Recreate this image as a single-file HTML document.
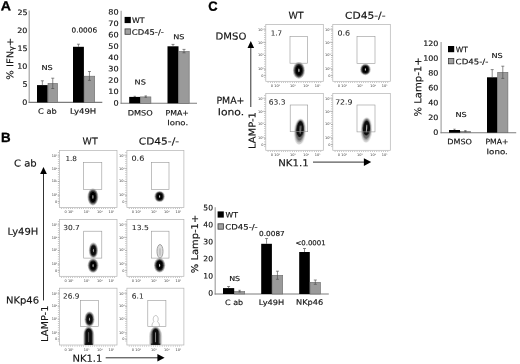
<!DOCTYPE html>
<html lang="en"><head><meta charset="utf-8"><title>Figure</title>
<style>html,body{margin:0;padding:0;background:#fff}svg{display:block}</style></head><body>
<svg width="520" height="364" viewBox="0 0 520 364">
<rect width="520" height="364" fill="#fff"/>
<defs><filter id="bl" x="-30%" y="-30%" width="160%" height="160%"><feGaussianBlur stdDeviation="0.35"/></filter></defs>
<text transform="translate(0.65,10.3) rotate(0.03) scale(1.089,1)" font-family='"Liberation Sans", "DejaVu Sans", sans-serif' font-size="13.0" fill="#000" stroke="#000" stroke-width="0.3" font-weight="bold">A</text>
<text transform="translate(1.06,142.1) rotate(0.03) scale(0.997,1)" font-family='"Liberation Sans", "DejaVu Sans", sans-serif' font-size="13.4" fill="#000" stroke="#000" stroke-width="0.3" font-weight="bold">B</text>
<text transform="translate(208.37,10.65) rotate(0.03) scale(0.970,1)" font-family='"Liberation Sans", "DejaVu Sans", sans-serif' font-size="13.4" fill="#000" stroke="#000" stroke-width="0.3" font-weight="bold">C</text>
<path d="M29.2 10.5V102.9" stroke="#a4a4a4" stroke-width="1.2" fill="none"/>
<path d="M28.599999999999998 102.4H102.3" stroke="#7c7c7c" stroke-width="1.1" fill="none"/>
<text transform="translate(22.35,104.70) rotate(0.03) scale(1.080,1)" font-family='"DejaVu Sans", "Liberation Sans", sans-serif' font-size="7.4" fill="#141414" stroke="#141414" stroke-width="0.16">0</text>
<text transform="translate(22.51,86.76) rotate(0.03) scale(1.080,1)" font-family='"DejaVu Sans", "Liberation Sans", sans-serif' font-size="7.4" fill="#141414" stroke="#141414" stroke-width="0.16">5</text>
<text transform="translate(17.26,68.82) rotate(0.03) scale(1.080,1)" font-family='"DejaVu Sans", "Liberation Sans", sans-serif' font-size="7.4" fill="#141414" stroke="#141414" stroke-width="0.16">10</text>
<text transform="translate(17.43,50.88) rotate(0.03) scale(1.080,1)" font-family='"DejaVu Sans", "Liberation Sans", sans-serif' font-size="7.4" fill="#141414" stroke="#141414" stroke-width="0.16">15</text>
<text transform="translate(17.26,32.94) rotate(0.03) scale(1.080,1)" font-family='"DejaVu Sans", "Liberation Sans", sans-serif' font-size="7.4" fill="#141414" stroke="#141414" stroke-width="0.16">20</text>
<text transform="translate(17.43,15.00) rotate(0.03) scale(1.080,1)" font-family='"DejaVu Sans", "Liberation Sans", sans-serif' font-size="7.4" fill="#141414" stroke="#141414" stroke-width="0.16">25</text>
<rect x="37.0" y="85.1" width="10.70" height="17.30" fill="#000"/>
<path d="M42.35 80.8V85.1M40.85 80.8h3.0" stroke="#4d4d4d" stroke-width="0.65" fill="none"/>
<rect x="48.00" y="83.40" width="9.50" height="19.00" fill="#9a9a9a" stroke="#6a6a6a" stroke-width="0.6"/>
<path d="M52.75 78.2V88.5M51.25 78.2h3.0M51.25 88.5h3.0" stroke="#4d4d4d" stroke-width="0.65" fill="none"/>
<rect x="73" y="46.8" width="10.90" height="55.60" fill="#000"/>
<path d="M78.45 44.2V46.8M76.95 44.2h3.0" stroke="#4d4d4d" stroke-width="0.65" fill="none"/>
<rect x="84.20" y="76.20" width="10.50" height="26.20" fill="#9a9a9a" stroke="#6a6a6a" stroke-width="0.6"/>
<path d="M89.45 71.5V80.4M87.95 71.5h3.0M87.95 80.4h3.0" stroke="#4d4d4d" stroke-width="0.65" fill="none"/>
<text transform="translate(41.50,70) rotate(0.03) scale(1.179,1)" font-family='"DejaVu Sans", "Liberation Sans", sans-serif' font-size="6.9" fill="#141414" stroke="#141414" stroke-width="0.16">NS</text>
<text transform="translate(71.52,32.6) rotate(0.03) scale(1.058,1)" font-family='"DejaVu Sans", "Liberation Sans", sans-serif' font-size="6.9" fill="#141414" stroke="#141414" stroke-width="0.16">0.0006</text>
<text transform="translate(38.04,113.8) rotate(0.03) scale(1.111,1)" font-family='"DejaVu Sans", "Liberation Sans", sans-serif' font-size="7.4" fill="#141414" stroke="#141414" stroke-width="0.16">C ab</text>
<text transform="translate(69.96,113.8) rotate(0.03) scale(1.153,1)" font-family='"DejaVu Sans", "Liberation Sans", sans-serif' font-size="7.4" fill="#141414" stroke="#141414" stroke-width="0.16">Ly49H</text>
<text transform="translate(13.2,79.65) rotate(-89.96) scale(1.074,1)" font-family='"DejaVu Sans", "Liberation Sans", sans-serif' font-size="9.3" fill="#141414" stroke="#141414" stroke-width="0.16">% IFN<tspan font-size="7.2" dy="0.8">γ</tspan><tspan dy="-0.8">+</tspan></text>
<path d="M121.15 10.8V103.8" stroke="#a4a4a4" stroke-width="1.2" fill="none"/>
<path d="M120.55000000000001 103.3H197" stroke="#7c7c7c" stroke-width="1.1" fill="none"/>
<text transform="translate(113.46,105.40) rotate(0.03) scale(1.100,1)" font-family='"DejaVu Sans", "Liberation Sans", sans-serif' font-size="7.4" fill="#141414" stroke="#141414" stroke-width="0.16">0</text>
<text transform="translate(108.28,94.05) rotate(0.03) scale(1.100,1)" font-family='"DejaVu Sans", "Liberation Sans", sans-serif' font-size="7.4" fill="#141414" stroke="#141414" stroke-width="0.16">10</text>
<text transform="translate(108.28,82.70) rotate(0.03) scale(1.100,1)" font-family='"DejaVu Sans", "Liberation Sans", sans-serif' font-size="7.4" fill="#141414" stroke="#141414" stroke-width="0.16">20</text>
<text transform="translate(108.28,71.35) rotate(0.03) scale(1.100,1)" font-family='"DejaVu Sans", "Liberation Sans", sans-serif' font-size="7.4" fill="#141414" stroke="#141414" stroke-width="0.16">30</text>
<text transform="translate(108.28,60.00) rotate(0.03) scale(1.100,1)" font-family='"DejaVu Sans", "Liberation Sans", sans-serif' font-size="7.4" fill="#141414" stroke="#141414" stroke-width="0.16">40</text>
<text transform="translate(108.28,48.65) rotate(0.03) scale(1.100,1)" font-family='"DejaVu Sans", "Liberation Sans", sans-serif' font-size="7.4" fill="#141414" stroke="#141414" stroke-width="0.16">50</text>
<text transform="translate(108.28,37.30) rotate(0.03) scale(1.100,1)" font-family='"DejaVu Sans", "Liberation Sans", sans-serif' font-size="7.4" fill="#141414" stroke="#141414" stroke-width="0.16">60</text>
<text transform="translate(108.28,25.95) rotate(0.03) scale(1.100,1)" font-family='"DejaVu Sans", "Liberation Sans", sans-serif' font-size="7.4" fill="#141414" stroke="#141414" stroke-width="0.16">70</text>
<text transform="translate(108.28,14.60) rotate(0.03) scale(1.100,1)" font-family='"DejaVu Sans", "Liberation Sans", sans-serif' font-size="7.4" fill="#141414" stroke="#141414" stroke-width="0.16">80</text>
<rect x="124.6" y="16.9" width="6.2" height="6.2" fill="#000"/>
<rect x="125.0" y="28.9" width="5.4" height="5.4" fill="#a0a0a0" stroke="#3c3c3c" stroke-width="0.8"/>
<text transform="translate(132.04,23.099999999999998) rotate(0.03) scale(1.059,1)" font-family='"DejaVu Sans", "Liberation Sans", sans-serif' font-size="7.4" fill="#141414" stroke="#141414" stroke-width="0.16">WT</text>
<text transform="translate(131.83,34.7) rotate(0.03) scale(1.138,1)" font-family='"DejaVu Sans", "Liberation Sans", sans-serif' font-size="7.4" fill="#141414" stroke="#141414" stroke-width="0.16">CD45-/-</text>
<rect x="129.2" y="96.9" width="11.10" height="6.40" fill="#000"/>
<path d="M134.75 96.3V96.9M133.55 96.3h2.4" stroke="#4d4d4d" stroke-width="0.65" fill="none"/>
<rect x="140.60" y="96.90" width="10.30" height="6.40" fill="#9a9a9a" stroke="#6a6a6a" stroke-width="0.6"/>
<path d="M145.75 95.9V97.3M144.55 95.9h2.4M144.55 97.3h2.4" stroke="#4d4d4d" stroke-width="0.65" fill="none"/>
<rect x="167.5" y="46.3" width="11.00" height="57.00" fill="#000"/>
<path d="M173.00 44.4V46.3M171.50 44.4h3.0" stroke="#4d4d4d" stroke-width="0.65" fill="none"/>
<rect x="178.80" y="51.40" width="10.40" height="51.90" fill="#9a9a9a" stroke="#6a6a6a" stroke-width="0.6"/>
<path d="M184.00 49.4V52.8M182.50 49.4h3.0M182.50 52.8h3.0" stroke="#4d4d4d" stroke-width="0.65" fill="none"/>
<text transform="translate(134.60,84.6) rotate(0.03) scale(1.179,1)" font-family='"DejaVu Sans", "Liberation Sans", sans-serif' font-size="6.9" fill="#141414" stroke="#141414" stroke-width="0.16">NS</text>
<text transform="translate(173.20,39.2) rotate(0.03) scale(1.179,1)" font-family='"DejaVu Sans", "Liberation Sans", sans-serif' font-size="6.9" fill="#141414" stroke="#141414" stroke-width="0.16">NS</text>
<text transform="translate(127.69,115.6) rotate(0.03) scale(1.109,1)" font-family='"DejaVu Sans", "Liberation Sans", sans-serif' font-size="7.4" fill="#141414" stroke="#141414" stroke-width="0.16">DMSO</text>
<text transform="translate(165.43,115.6) rotate(0.03) scale(1.058,1)" font-family='"DejaVu Sans", "Liberation Sans", sans-serif' font-size="7.4" fill="#141414" stroke="#141414" stroke-width="0.16">PMA+</text>
<text transform="translate(167.16,125.3) rotate(0.03) scale(1.158,1)" font-family='"DejaVu Sans", "Liberation Sans", sans-serif' font-size="7.4" fill="#141414" stroke="#141414" stroke-width="0.16">Iono.</text>
<text transform="translate(82.59,144.6) rotate(0.03) scale(0.993,1)" font-family='"DejaVu Sans", "Liberation Sans", sans-serif' font-size="9.5" fill="#141414" stroke="#141414" stroke-width="0.16">WT</text>
<text transform="translate(138.80,144.6) rotate(0.03) scale(1.117,1)" font-family='"DejaVu Sans", "Liberation Sans", sans-serif' font-size="9.5" fill="#141414" stroke="#141414" stroke-width="0.16">CD45-/-</text>
<text transform="translate(14.04,166.4) rotate(0.03) scale(1.056,1)" font-family='"DejaVu Sans", "Liberation Sans", sans-serif' font-size="9.5" fill="#141414" stroke="#141414" stroke-width="0.16">C ab</text>
<text transform="translate(7.52,234.8) rotate(0.03) scale(1.050,1)" font-family='"DejaVu Sans", "Liberation Sans", sans-serif' font-size="9.5" fill="#141414" stroke="#141414" stroke-width="0.16">Ly49H</text>
<text transform="translate(5.92,303.4) rotate(0.03) scale(1.056,1)" font-family='"DejaVu Sans", "Liberation Sans", sans-serif' font-size="9.5" fill="#141414" stroke="#141414" stroke-width="0.16">NKp46</text>
<path d="M43.5 172V300.4" stroke="#1a1a1a" stroke-width="0.9"/><path d="M43.5 167L46.9 173.9H40.1Z" fill="#000"/>
<text transform="translate(48.1,341.96) rotate(-89.96) scale(1.034,1)" font-family='"DejaVu Sans", "Liberation Sans", sans-serif' font-size="9.5" fill="#141414" stroke="#141414" stroke-width="0.16">LAMP-1</text>
<text transform="translate(72.42,361.7) rotate(0.03) scale(1.055,1)" font-family='"DejaVu Sans", "Liberation Sans", sans-serif' font-size="9.5" fill="#141414" stroke="#141414" stroke-width="0.16">NK1.1</text>
<path d="M105.7 357.8H158" stroke="#1a1a1a" stroke-width="0.9"/><path d="M164.6 357.8L157.4 354.1V361.5Z" fill="#000"/>
<rect x="59.5" y="150.5" width="57.50" height="56.90" fill="#fff" stroke="#b2b2b2" stroke-width="0.7"/>
<g filter="url(#bl)"><ellipse cx="92.9" cy="196.9" rx="5.40" ry="8.50" fill="#b4b4b4" opacity="0.80"/><ellipse cx="92.9" cy="196.9" rx="4.64" ry="7.48" fill="#6e6e6e" opacity="0.90"/><ellipse cx="92.9" cy="196.9" rx="3.89" ry="6.46" fill="#2c2c2c" opacity="0.95"/><ellipse cx="92.9" cy="196.9" rx="3.02" ry="5.27" fill="#050505" opacity="1.00"/><ellipse cx="92.9" cy="196.9" rx="0.54" ry="1.87" fill="#dcdcdc" opacity="0.90"/></g>
<rect x="83.5" y="162.3" width="18.30" height="27.20" fill="none" stroke="#969696" stroke-width="0.6"/>
<text transform="translate(65.40,161) rotate(0.03) scale(1.042,1)" font-family='"DejaVu Sans", "Liberation Sans", sans-serif' font-size="7.0" fill="#262626" stroke="#262626" stroke-width="0.06">1.8</text>
<text x="57.20" y="156.81" font-family='"DejaVu Sans", "Liberation Sans", sans-serif' font-size="3.5" text-anchor="end" fill="#3c3c3c">10<tspan dy="-0.9" font-size="1.7">5</tspan></text>
<path d="M57.70 155.91h1.8" stroke="#8a8a8a" stroke-width="0.5"/>
<text x="57.20" y="169.61" font-family='"DejaVu Sans", "Liberation Sans", sans-serif' font-size="3.5" text-anchor="end" fill="#3c3c3c">10<tspan dy="-0.9" font-size="1.7">4</tspan></text>
<path d="M57.70 168.71h1.8" stroke="#8a8a8a" stroke-width="0.5"/>
<text x="57.20" y="182.41" font-family='"DejaVu Sans", "Liberation Sans", sans-serif' font-size="3.5" text-anchor="end" fill="#3c3c3c">10<tspan dy="-0.9" font-size="1.7">3</tspan></text>
<path d="M57.70 181.51h1.8" stroke="#8a8a8a" stroke-width="0.5"/>
<text x="57.20" y="196.35" font-family='"DejaVu Sans", "Liberation Sans", sans-serif' font-size="3.5" text-anchor="end" fill="#3c3c3c">10<tspan dy="-0.9" font-size="1.7">2</tspan></text>
<path d="M57.70 195.45h1.8" stroke="#8a8a8a" stroke-width="0.5"/>
<text x="57.20" y="202.61" font-family='"DejaVu Sans", "Liberation Sans", sans-serif' font-size="3.5" text-anchor="end" fill="#3c3c3c">0</text>
<path d="M57.70 201.71h1.8" stroke="#8a8a8a" stroke-width="0.5"/>
<text x="68.99" y="213.00" font-family='"DejaVu Sans", "Liberation Sans", sans-serif' font-size="3.5" text-anchor="middle" fill="#3c3c3c">0 10<tspan dy="-0.9" font-size="1.7">2</tspan></text>
<text x="86.53" y="213.00" font-family='"DejaVu Sans", "Liberation Sans", sans-serif' font-size="3.5" text-anchor="middle" fill="#3c3c3c">10<tspan dy="-0.9" font-size="1.7">3</tspan></text>
<text x="99.75" y="213.00" font-family='"DejaVu Sans", "Liberation Sans", sans-serif' font-size="3.5" text-anchor="middle" fill="#3c3c3c">10<tspan dy="-0.9" font-size="1.7">4</tspan></text>
<text x="111.25" y="213.00" font-family='"DejaVu Sans", "Liberation Sans", sans-serif' font-size="3.5" text-anchor="middle" fill="#3c3c3c">10<tspan dy="-0.9" font-size="1.7">5</tspan></text>
<path d="M61.50 208.50H115.00" stroke="#7a7a7a" stroke-width="0.9" stroke-dasharray="0.5 1.7"/>
<path d="M58.40 152.50V205.40" stroke="#7a7a7a" stroke-width="0.9" stroke-dasharray="0.5 1.7"/>
<rect x="126.9" y="150.5" width="57.00" height="56.90" fill="#fff" stroke="#b2b2b2" stroke-width="0.7"/>
<g filter="url(#bl)"><ellipse cx="159.6" cy="196.5" rx="5.20" ry="5.50" fill="#b4b4b4" opacity="0.80"/><ellipse cx="159.6" cy="196.5" rx="4.47" ry="4.84" fill="#6e6e6e" opacity="0.90"/><ellipse cx="159.6" cy="196.5" rx="3.74" ry="4.18" fill="#2c2c2c" opacity="0.95"/><ellipse cx="159.6" cy="196.5" rx="2.91" ry="3.41" fill="#050505" opacity="1.00"/><ellipse cx="159.6" cy="196.5" rx="0.52" ry="1.21" fill="#dcdcdc" opacity="0.90"/></g>
<rect x="151.5" y="162.3" width="17.50" height="27.30" fill="none" stroke="#969696" stroke-width="0.6"/>
<text transform="translate(131.47,160.8) rotate(0.03) scale(1.153,1)" font-family='"DejaVu Sans", "Liberation Sans", sans-serif' font-size="7.0" fill="#262626" stroke="#262626" stroke-width="0.06">0.6</text>
<text x="124.60" y="156.81" font-family='"DejaVu Sans", "Liberation Sans", sans-serif' font-size="3.5" text-anchor="end" fill="#3c3c3c">10<tspan dy="-0.9" font-size="1.7">5</tspan></text>
<path d="M125.10 155.91h1.8" stroke="#8a8a8a" stroke-width="0.5"/>
<text x="124.60" y="169.61" font-family='"DejaVu Sans", "Liberation Sans", sans-serif' font-size="3.5" text-anchor="end" fill="#3c3c3c">10<tspan dy="-0.9" font-size="1.7">4</tspan></text>
<path d="M125.10 168.71h1.8" stroke="#8a8a8a" stroke-width="0.5"/>
<text x="124.60" y="182.41" font-family='"DejaVu Sans", "Liberation Sans", sans-serif' font-size="3.5" text-anchor="end" fill="#3c3c3c">10<tspan dy="-0.9" font-size="1.7">3</tspan></text>
<path d="M125.10 181.51h1.8" stroke="#8a8a8a" stroke-width="0.5"/>
<text x="124.60" y="196.35" font-family='"DejaVu Sans", "Liberation Sans", sans-serif' font-size="3.5" text-anchor="end" fill="#3c3c3c">10<tspan dy="-0.9" font-size="1.7">2</tspan></text>
<path d="M125.10 195.45h1.8" stroke="#8a8a8a" stroke-width="0.5"/>
<text x="124.60" y="202.61" font-family='"DejaVu Sans", "Liberation Sans", sans-serif' font-size="3.5" text-anchor="end" fill="#3c3c3c">0</text>
<path d="M125.10 201.71h1.8" stroke="#8a8a8a" stroke-width="0.5"/>
<text x="136.31" y="213.00" font-family='"DejaVu Sans", "Liberation Sans", sans-serif' font-size="3.5" text-anchor="middle" fill="#3c3c3c">0 10<tspan dy="-0.9" font-size="1.7">2</tspan></text>
<text x="153.69" y="213.00" font-family='"DejaVu Sans", "Liberation Sans", sans-serif' font-size="3.5" text-anchor="middle" fill="#3c3c3c">10<tspan dy="-0.9" font-size="1.7">3</tspan></text>
<text x="166.80" y="213.00" font-family='"DejaVu Sans", "Liberation Sans", sans-serif' font-size="3.5" text-anchor="middle" fill="#3c3c3c">10<tspan dy="-0.9" font-size="1.7">4</tspan></text>
<text x="178.20" y="213.00" font-family='"DejaVu Sans", "Liberation Sans", sans-serif' font-size="3.5" text-anchor="middle" fill="#3c3c3c">10<tspan dy="-0.9" font-size="1.7">5</tspan></text>
<path d="M128.90 208.50H181.90" stroke="#7a7a7a" stroke-width="0.9" stroke-dasharray="0.5 1.7"/>
<path d="M125.80 152.50V205.40" stroke="#7a7a7a" stroke-width="0.9" stroke-dasharray="0.5 1.7"/>
<rect x="59.5" y="219.4" width="57.50" height="56.90" fill="#fff" stroke="#b2b2b2" stroke-width="0.7"/>
<g filter="url(#bl)"><ellipse cx="93.4" cy="250.4" rx="4.60" ry="7.90" fill="#b4b4b4" opacity="0.66"/><ellipse cx="93.4" cy="250.4" rx="3.96" ry="6.95" fill="#6e6e6e" opacity="0.74"/><ellipse cx="93.4" cy="250.4" rx="3.31" ry="6.00" fill="#2c2c2c" opacity="0.78"/><ellipse cx="93.4" cy="250.4" rx="2.58" ry="4.90" fill="#050505" opacity="0.82"/><ellipse cx="93.4" cy="250.4" rx="0.50" ry="1.74" fill="#dcdcdc" opacity="0.74"/></g>
<g filter="url(#bl)"><ellipse cx="93.1" cy="265.6" rx="5.40" ry="7.20" fill="#b4b4b4" opacity="0.80"/><ellipse cx="93.1" cy="265.6" rx="4.64" ry="6.34" fill="#6e6e6e" opacity="0.90"/><ellipse cx="93.1" cy="265.6" rx="3.89" ry="5.47" fill="#2c2c2c" opacity="0.95"/><ellipse cx="93.1" cy="265.6" rx="3.02" ry="4.46" fill="#050505" opacity="1.00"/><ellipse cx="93.1" cy="265.6" rx="0.54" ry="1.58" fill="#dcdcdc" opacity="0.90"/></g>
<rect x="83.7" y="231.2" width="18.10" height="26.90" fill="none" stroke="#969696" stroke-width="0.6"/>
<text transform="translate(63.23,230) rotate(0.03) scale(1.065,1)" font-family='"DejaVu Sans", "Liberation Sans", sans-serif' font-size="7.0" fill="#262626" stroke="#262626" stroke-width="0.06">30.7</text>
<text x="57.20" y="225.71" font-family='"DejaVu Sans", "Liberation Sans", sans-serif' font-size="3.5" text-anchor="end" fill="#3c3c3c">10<tspan dy="-0.9" font-size="1.7">5</tspan></text>
<path d="M57.70 224.81h1.8" stroke="#8a8a8a" stroke-width="0.5"/>
<text x="57.20" y="238.51" font-family='"DejaVu Sans", "Liberation Sans", sans-serif' font-size="3.5" text-anchor="end" fill="#3c3c3c">10<tspan dy="-0.9" font-size="1.7">4</tspan></text>
<path d="M57.70 237.61h1.8" stroke="#8a8a8a" stroke-width="0.5"/>
<text x="57.20" y="251.31" font-family='"DejaVu Sans", "Liberation Sans", sans-serif' font-size="3.5" text-anchor="end" fill="#3c3c3c">10<tspan dy="-0.9" font-size="1.7">3</tspan></text>
<path d="M57.70 250.41h1.8" stroke="#8a8a8a" stroke-width="0.5"/>
<text x="57.20" y="265.25" font-family='"DejaVu Sans", "Liberation Sans", sans-serif' font-size="3.5" text-anchor="end" fill="#3c3c3c">10<tspan dy="-0.9" font-size="1.7">2</tspan></text>
<path d="M57.70 264.35h1.8" stroke="#8a8a8a" stroke-width="0.5"/>
<text x="57.20" y="271.51" font-family='"DejaVu Sans", "Liberation Sans", sans-serif' font-size="3.5" text-anchor="end" fill="#3c3c3c">0</text>
<path d="M57.70 270.61h1.8" stroke="#8a8a8a" stroke-width="0.5"/>
<text x="68.99" y="281.90" font-family='"DejaVu Sans", "Liberation Sans", sans-serif' font-size="3.5" text-anchor="middle" fill="#3c3c3c">0 10<tspan dy="-0.9" font-size="1.7">2</tspan></text>
<text x="86.53" y="281.90" font-family='"DejaVu Sans", "Liberation Sans", sans-serif' font-size="3.5" text-anchor="middle" fill="#3c3c3c">10<tspan dy="-0.9" font-size="1.7">3</tspan></text>
<text x="99.75" y="281.90" font-family='"DejaVu Sans", "Liberation Sans", sans-serif' font-size="3.5" text-anchor="middle" fill="#3c3c3c">10<tspan dy="-0.9" font-size="1.7">4</tspan></text>
<text x="111.25" y="281.90" font-family='"DejaVu Sans", "Liberation Sans", sans-serif' font-size="3.5" text-anchor="middle" fill="#3c3c3c">10<tspan dy="-0.9" font-size="1.7">5</tspan></text>
<path d="M61.50 277.40H115.00" stroke="#7a7a7a" stroke-width="0.9" stroke-dasharray="0.5 1.7"/>
<path d="M58.40 221.40V274.30" stroke="#7a7a7a" stroke-width="0.9" stroke-dasharray="0.5 1.7"/>
<rect x="126.9" y="219.4" width="57.00" height="56.90" fill="#fff" stroke="#b2b2b2" stroke-width="0.7"/>
<g filter="url(#bl)"><ellipse cx="160" cy="251.3" rx="3" ry="6.8" fill="#dedede" stroke="#a2a2a2" stroke-width="1"/><ellipse cx="160" cy="252" rx="1.1" ry="4" fill="#c4c4c4"/></g>
<g filter="url(#bl)"><ellipse cx="159.6" cy="265.3" rx="5.60" ry="7.20" fill="#b4b4b4" opacity="0.80"/><ellipse cx="159.6" cy="265.3" rx="4.82" ry="6.34" fill="#6e6e6e" opacity="0.90"/><ellipse cx="159.6" cy="265.3" rx="4.03" ry="5.47" fill="#2c2c2c" opacity="0.95"/><ellipse cx="159.6" cy="265.3" rx="3.14" ry="4.46" fill="#050505" opacity="1.00"/><ellipse cx="159.6" cy="265.3" rx="0.56" ry="1.58" fill="#dcdcdc" opacity="0.90"/></g>
<rect x="151.5" y="231.2" width="17.50" height="26.90" fill="none" stroke="#969696" stroke-width="0.6"/>
<text transform="translate(131.76,230) rotate(0.03) scale(1.098,1)" font-family='"DejaVu Sans", "Liberation Sans", sans-serif' font-size="7.0" fill="#262626" stroke="#262626" stroke-width="0.06">13.5</text>
<text x="124.60" y="225.71" font-family='"DejaVu Sans", "Liberation Sans", sans-serif' font-size="3.5" text-anchor="end" fill="#3c3c3c">10<tspan dy="-0.9" font-size="1.7">5</tspan></text>
<path d="M125.10 224.81h1.8" stroke="#8a8a8a" stroke-width="0.5"/>
<text x="124.60" y="238.51" font-family='"DejaVu Sans", "Liberation Sans", sans-serif' font-size="3.5" text-anchor="end" fill="#3c3c3c">10<tspan dy="-0.9" font-size="1.7">4</tspan></text>
<path d="M125.10 237.61h1.8" stroke="#8a8a8a" stroke-width="0.5"/>
<text x="124.60" y="251.31" font-family='"DejaVu Sans", "Liberation Sans", sans-serif' font-size="3.5" text-anchor="end" fill="#3c3c3c">10<tspan dy="-0.9" font-size="1.7">3</tspan></text>
<path d="M125.10 250.41h1.8" stroke="#8a8a8a" stroke-width="0.5"/>
<text x="124.60" y="265.25" font-family='"DejaVu Sans", "Liberation Sans", sans-serif' font-size="3.5" text-anchor="end" fill="#3c3c3c">10<tspan dy="-0.9" font-size="1.7">2</tspan></text>
<path d="M125.10 264.35h1.8" stroke="#8a8a8a" stroke-width="0.5"/>
<text x="124.60" y="271.51" font-family='"DejaVu Sans", "Liberation Sans", sans-serif' font-size="3.5" text-anchor="end" fill="#3c3c3c">0</text>
<path d="M125.10 270.61h1.8" stroke="#8a8a8a" stroke-width="0.5"/>
<text x="136.31" y="281.90" font-family='"DejaVu Sans", "Liberation Sans", sans-serif' font-size="3.5" text-anchor="middle" fill="#3c3c3c">0 10<tspan dy="-0.9" font-size="1.7">2</tspan></text>
<text x="153.69" y="281.90" font-family='"DejaVu Sans", "Liberation Sans", sans-serif' font-size="3.5" text-anchor="middle" fill="#3c3c3c">10<tspan dy="-0.9" font-size="1.7">3</tspan></text>
<text x="166.80" y="281.90" font-family='"DejaVu Sans", "Liberation Sans", sans-serif' font-size="3.5" text-anchor="middle" fill="#3c3c3c">10<tspan dy="-0.9" font-size="1.7">4</tspan></text>
<text x="178.20" y="281.90" font-family='"DejaVu Sans", "Liberation Sans", sans-serif' font-size="3.5" text-anchor="middle" fill="#3c3c3c">10<tspan dy="-0.9" font-size="1.7">5</tspan></text>
<path d="M128.90 277.40H181.90" stroke="#7a7a7a" stroke-width="0.9" stroke-dasharray="0.5 1.7"/>
<path d="M125.80 221.40V274.30" stroke="#7a7a7a" stroke-width="0.9" stroke-dasharray="0.5 1.7"/>
<rect x="59.5" y="288.2" width="57.50" height="56.80" fill="#fff" stroke="#b2b2b2" stroke-width="0.7"/>
<g filter="url(#bl)"><path d="M83.20 344.8V334.65A5.50 8.25 0 0 1 94.20 334.65V344.8Z" fill="#c8c8c8" opacity="0.7"/><path d="M83.97 344.8V334.19A4.73 7.09 0 0 1 93.43 334.19V344.8Z" fill="#8e8e8e" opacity="0.9"/><path d="M84.74 344.8V333.84A3.96 5.94 0 0 1 92.66 333.84V344.8Z" fill="#484848" opacity="0.95"/><path d="M85.62 344.8V333.42A3.08 4.62 0 0 1 91.78 333.42V344.8Z" fill="#0a0a0a" opacity="1"/><rect x="88.30" y="331.9" width="0.8" height="10.40" rx="0.4" fill="#6a6a6a"/><rect x="84.74" y="343.60" width="7.92" height="1.2" fill="#1a1a1a"/></g>
<g filter="url(#bl)"><ellipse cx="89.5" cy="319.2" rx="5.10" ry="7.80" fill="#b4b4b4" opacity="0.66"/><ellipse cx="89.5" cy="319.2" rx="4.39" ry="6.86" fill="#6e6e6e" opacity="0.74"/><ellipse cx="89.5" cy="319.2" rx="3.67" ry="5.93" fill="#2c2c2c" opacity="0.78"/><ellipse cx="89.5" cy="319.2" rx="2.86" ry="4.84" fill="#050505" opacity="0.82"/><ellipse cx="89.5" cy="319.2" rx="0.51" ry="1.72" fill="#dcdcdc" opacity="0.74"/></g>
<rect x="80.5" y="300.3" width="18.00" height="26.20" fill="none" stroke="#969696" stroke-width="0.6"/>
<text transform="translate(63.06,298.5) rotate(0.03) scale(1.049,1)" font-family='"DejaVu Sans", "Liberation Sans", sans-serif' font-size="7.0" fill="#262626" stroke="#262626" stroke-width="0.06">26.9</text>
<text x="57.20" y="294.50" font-family='"DejaVu Sans", "Liberation Sans", sans-serif' font-size="3.5" text-anchor="end" fill="#3c3c3c">10<tspan dy="-0.9" font-size="1.7">5</tspan></text>
<path d="M57.70 293.60h1.8" stroke="#8a8a8a" stroke-width="0.5"/>
<text x="57.20" y="307.28" font-family='"DejaVu Sans", "Liberation Sans", sans-serif' font-size="3.5" text-anchor="end" fill="#3c3c3c">10<tspan dy="-0.9" font-size="1.7">4</tspan></text>
<path d="M57.70 306.38h1.8" stroke="#8a8a8a" stroke-width="0.5"/>
<text x="57.20" y="320.06" font-family='"DejaVu Sans", "Liberation Sans", sans-serif' font-size="3.5" text-anchor="end" fill="#3c3c3c">10<tspan dy="-0.9" font-size="1.7">3</tspan></text>
<path d="M57.70 319.16h1.8" stroke="#8a8a8a" stroke-width="0.5"/>
<text x="57.20" y="333.97" font-family='"DejaVu Sans", "Liberation Sans", sans-serif' font-size="3.5" text-anchor="end" fill="#3c3c3c">10<tspan dy="-0.9" font-size="1.7">2</tspan></text>
<path d="M57.70 333.07h1.8" stroke="#8a8a8a" stroke-width="0.5"/>
<text x="57.20" y="340.22" font-family='"DejaVu Sans", "Liberation Sans", sans-serif' font-size="3.5" text-anchor="end" fill="#3c3c3c">0</text>
<path d="M57.70 339.32h1.8" stroke="#8a8a8a" stroke-width="0.5"/>
<text x="68.99" y="350.60" font-family='"DejaVu Sans", "Liberation Sans", sans-serif' font-size="3.5" text-anchor="middle" fill="#3c3c3c">0 10<tspan dy="-0.9" font-size="1.7">2</tspan></text>
<text x="86.53" y="350.60" font-family='"DejaVu Sans", "Liberation Sans", sans-serif' font-size="3.5" text-anchor="middle" fill="#3c3c3c">10<tspan dy="-0.9" font-size="1.7">3</tspan></text>
<text x="99.75" y="350.60" font-family='"DejaVu Sans", "Liberation Sans", sans-serif' font-size="3.5" text-anchor="middle" fill="#3c3c3c">10<tspan dy="-0.9" font-size="1.7">4</tspan></text>
<text x="111.25" y="350.60" font-family='"DejaVu Sans", "Liberation Sans", sans-serif' font-size="3.5" text-anchor="middle" fill="#3c3c3c">10<tspan dy="-0.9" font-size="1.7">5</tspan></text>
<path d="M61.50 346.10H115.00" stroke="#7a7a7a" stroke-width="0.9" stroke-dasharray="0.5 1.7"/>
<path d="M58.40 290.20V343.00" stroke="#7a7a7a" stroke-width="0.9" stroke-dasharray="0.5 1.7"/>
<rect x="126.9" y="288.2" width="57.00" height="56.80" fill="#fff" stroke="#b2b2b2" stroke-width="0.7"/>
<g filter="url(#bl)"><path d="M149.10 344.8V336.35A6.50 9.75 0 0 1 162.10 336.35V344.8Z" fill="#c8c8c8" opacity="0.7"/><path d="M150.40 344.8V335.10A5.20 7.80 0 0 1 160.80 335.10V344.8Z" fill="#8e8e8e" opacity="0.9"/><path d="M151.57 344.8V334.15A4.03 6.04 0 0 1 159.63 334.15V344.8Z" fill="#484848" opacity="0.95"/><path d="M152.74 344.8V333.29A2.86 4.29 0 0 1 158.46 333.29V344.8Z" fill="#0a0a0a" opacity="1"/><rect x="155.20" y="332.1" width="0.8" height="10.20" rx="0.4" fill="#9a9a9a"/><rect x="150.92" y="343.60" width="9.36" height="1.2" fill="#1a1a1a"/></g>
<path d="M152.3 326.6c-0.9-1.9 0.2-3.7 1.6-4.9c-1.6-2.8-0.1-6.2 1.8-6.2s3.4 3.4 1.8 6.2c1.4 1.2 2.5 3 1.6 4.9" fill="#fff" stroke="#8a8a8a" stroke-width="0.5"/>
<rect x="147.8" y="300.3" width="18.10" height="26.20" fill="none" stroke="#969696" stroke-width="0.6"/>
<text transform="translate(131.78,298.5) rotate(0.03) scale(1.070,1)" font-family='"DejaVu Sans", "Liberation Sans", sans-serif' font-size="7.0" fill="#262626" stroke="#262626" stroke-width="0.06">6.1</text>
<text x="124.60" y="294.50" font-family='"DejaVu Sans", "Liberation Sans", sans-serif' font-size="3.5" text-anchor="end" fill="#3c3c3c">10<tspan dy="-0.9" font-size="1.7">5</tspan></text>
<path d="M125.10 293.60h1.8" stroke="#8a8a8a" stroke-width="0.5"/>
<text x="124.60" y="307.28" font-family='"DejaVu Sans", "Liberation Sans", sans-serif' font-size="3.5" text-anchor="end" fill="#3c3c3c">10<tspan dy="-0.9" font-size="1.7">4</tspan></text>
<path d="M125.10 306.38h1.8" stroke="#8a8a8a" stroke-width="0.5"/>
<text x="124.60" y="320.06" font-family='"DejaVu Sans", "Liberation Sans", sans-serif' font-size="3.5" text-anchor="end" fill="#3c3c3c">10<tspan dy="-0.9" font-size="1.7">3</tspan></text>
<path d="M125.10 319.16h1.8" stroke="#8a8a8a" stroke-width="0.5"/>
<text x="124.60" y="333.97" font-family='"DejaVu Sans", "Liberation Sans", sans-serif' font-size="3.5" text-anchor="end" fill="#3c3c3c">10<tspan dy="-0.9" font-size="1.7">2</tspan></text>
<path d="M125.10 333.07h1.8" stroke="#8a8a8a" stroke-width="0.5"/>
<text x="124.60" y="340.22" font-family='"DejaVu Sans", "Liberation Sans", sans-serif' font-size="3.5" text-anchor="end" fill="#3c3c3c">0</text>
<path d="M125.10 339.32h1.8" stroke="#8a8a8a" stroke-width="0.5"/>
<text x="136.31" y="350.60" font-family='"DejaVu Sans", "Liberation Sans", sans-serif' font-size="3.5" text-anchor="middle" fill="#3c3c3c">0 10<tspan dy="-0.9" font-size="1.7">2</tspan></text>
<text x="153.69" y="350.60" font-family='"DejaVu Sans", "Liberation Sans", sans-serif' font-size="3.5" text-anchor="middle" fill="#3c3c3c">10<tspan dy="-0.9" font-size="1.7">3</tspan></text>
<text x="166.80" y="350.60" font-family='"DejaVu Sans", "Liberation Sans", sans-serif' font-size="3.5" text-anchor="middle" fill="#3c3c3c">10<tspan dy="-0.9" font-size="1.7">4</tspan></text>
<text x="178.20" y="350.60" font-family='"DejaVu Sans", "Liberation Sans", sans-serif' font-size="3.5" text-anchor="middle" fill="#3c3c3c">10<tspan dy="-0.9" font-size="1.7">5</tspan></text>
<path d="M128.90 346.10H181.90" stroke="#7a7a7a" stroke-width="0.9" stroke-dasharray="0.5 1.7"/>
<path d="M125.80 290.20V343.00" stroke="#7a7a7a" stroke-width="0.9" stroke-dasharray="0.5 1.7"/>
<path d="M215.2 207.3V294.5" stroke="#a4a4a4" stroke-width="1.2" fill="none"/>
<path d="M214.6 294.0H328.8" stroke="#7c7c7c" stroke-width="1.1" fill="none"/>
<text transform="translate(208.16,295.40) rotate(0.03) scale(1.030,1)" font-family='"DejaVu Sans", "Liberation Sans", sans-serif' font-size="7.4" fill="#141414" stroke="#141414" stroke-width="0.16">0</text>
<text transform="translate(203.31,278.38) rotate(0.03) scale(1.030,1)" font-family='"DejaVu Sans", "Liberation Sans", sans-serif' font-size="7.4" fill="#141414" stroke="#141414" stroke-width="0.16">10</text>
<text transform="translate(203.31,261.36) rotate(0.03) scale(1.030,1)" font-family='"DejaVu Sans", "Liberation Sans", sans-serif' font-size="7.4" fill="#141414" stroke="#141414" stroke-width="0.16">20</text>
<text transform="translate(203.31,244.34) rotate(0.03) scale(1.030,1)" font-family='"DejaVu Sans", "Liberation Sans", sans-serif' font-size="7.4" fill="#141414" stroke="#141414" stroke-width="0.16">30</text>
<text transform="translate(203.31,227.32) rotate(0.03) scale(1.030,1)" font-family='"DejaVu Sans", "Liberation Sans", sans-serif' font-size="7.4" fill="#141414" stroke="#141414" stroke-width="0.16">40</text>
<text transform="translate(203.31,210.30) rotate(0.03) scale(1.030,1)" font-family='"DejaVu Sans", "Liberation Sans", sans-serif' font-size="7.4" fill="#141414" stroke="#141414" stroke-width="0.16">50</text>
<rect x="217.6" y="211.4" width="6.2" height="6.2" fill="#000"/>
<rect x="218.0" y="223.8" width="5.4" height="5.4" fill="#a0a0a0" stroke="#3c3c3c" stroke-width="0.8"/>
<text transform="translate(225.54,217.6) rotate(0.03) scale(1.051,1)" font-family='"DejaVu Sans", "Liberation Sans", sans-serif' font-size="7.4" fill="#141414" stroke="#141414" stroke-width="0.16">WT</text>
<text transform="translate(225.32,229.6) rotate(0.03) scale(1.152,1)" font-family='"DejaVu Sans", "Liberation Sans", sans-serif' font-size="7.4" fill="#141414" stroke="#141414" stroke-width="0.16">CD45-/-</text>
<rect x="223" y="288.1" width="11.20" height="5.90" fill="#000"/>
<path d="M228.60 286.5V288.1M227.10 286.5h3.0" stroke="#4d4d4d" stroke-width="0.65" fill="none"/>
<rect x="234.50" y="291.50" width="10.20" height="2.50" fill="#9a9a9a" stroke="#6a6a6a" stroke-width="0.6"/>
<path d="M239.60 290.3V292.0M238.40 290.3h2.4M238.40 292.0h2.4" stroke="#4d4d4d" stroke-width="0.65" fill="none"/>
<rect x="261.2" y="243.8" width="10.70" height="50.20" fill="#000"/>
<path d="M266.55 238.5V243.8M265.05 238.5h3.0" stroke="#4d4d4d" stroke-width="0.65" fill="none"/>
<rect x="272.20" y="275.30" width="10.50" height="18.70" fill="#9a9a9a" stroke="#6a6a6a" stroke-width="0.6"/>
<path d="M277.45 271.2V279.3M275.95 271.2h3.0M275.95 279.3h3.0" stroke="#4d4d4d" stroke-width="0.65" fill="none"/>
<rect x="299.2" y="252.0" width="10.60" height="42.00" fill="#000"/>
<path d="M304.50 248.5V252.0M303.00 248.5h3.0" stroke="#4d4d4d" stroke-width="0.65" fill="none"/>
<rect x="310.10" y="282.30" width="10.40" height="11.70" fill="#9a9a9a" stroke="#6a6a6a" stroke-width="0.6"/>
<path d="M315.30 280.0V284.3M313.80 280.0h3.0M313.80 284.3h3.0" stroke="#4d4d4d" stroke-width="0.65" fill="none"/>
<text transform="translate(229.13,281.1) rotate(0.03) scale(1.144,1)" font-family='"DejaVu Sans", "Liberation Sans", sans-serif' font-size="6.9" fill="#141414" stroke="#141414" stroke-width="0.16">NS</text>
<text transform="translate(259.12,236.1) rotate(0.03) scale(1.065,1)" font-family='"DejaVu Sans", "Liberation Sans", sans-serif' font-size="6.9" fill="#141414" stroke="#141414" stroke-width="0.16">0.0087</text>
<text transform="translate(295.46,245.3) rotate(0.03) scale(1.009,1)" font-family='"DejaVu Sans", "Liberation Sans", sans-serif' font-size="6.9" fill="#141414" stroke="#141414" stroke-width="0.16">&lt;0.0001</text>
<text transform="translate(225.05,305) rotate(0.03) scale(1.080,1)" font-family='"DejaVu Sans", "Liberation Sans", sans-serif' font-size="7.4" fill="#141414" stroke="#141414" stroke-width="0.16">C ab</text>
<text transform="translate(258.79,305) rotate(0.03) scale(1.117,1)" font-family='"DejaVu Sans", "Liberation Sans", sans-serif' font-size="7.4" fill="#141414" stroke="#141414" stroke-width="0.16">Ly49H</text>
<text transform="translate(295.99,304.8) rotate(0.03) scale(1.111,1)" font-family='"DejaVu Sans", "Liberation Sans", sans-serif' font-size="7.4" fill="#141414" stroke="#141414" stroke-width="0.16">NKp46</text>
<text transform="translate(197.9,273.15) rotate(-89.96) scale(1.058,1)" font-family='"DejaVu Sans", "Liberation Sans", sans-serif' font-size="9.4" fill="#141414" stroke="#141414" stroke-width="0.16">% Lamp-1+</text>
<text transform="translate(288.48,18.7) rotate(0.03) scale(0.999,1)" font-family='"DejaVu Sans", "Liberation Sans", sans-serif' font-size="9.5" fill="#141414" stroke="#141414" stroke-width="0.16">WT</text>
<text transform="translate(345.00,18.7) rotate(0.03) scale(1.123,1)" font-family='"DejaVu Sans", "Liberation Sans", sans-serif' font-size="9.5" fill="#141414" stroke="#141414" stroke-width="0.16">CD45-/-</text>
<text transform="translate(215.51,39.4) rotate(0.03) scale(1.063,1)" font-family='"DejaVu Sans", "Liberation Sans", sans-serif' font-size="9.5" fill="#141414" stroke="#141414" stroke-width="0.16">DMSO</text>
<text transform="translate(216.38,103.7) rotate(0.03) scale(0.991,1)" font-family='"DejaVu Sans", "Liberation Sans", sans-serif' font-size="9.5" fill="#141414" stroke="#141414" stroke-width="0.16">PMA+</text>
<text transform="translate(217.74,115.3) rotate(0.03) scale(1.134,1)" font-family='"DejaVu Sans", "Liberation Sans", sans-serif' font-size="9.5" fill="#141414" stroke="#141414" stroke-width="0.16">Iono.</text>
<path d="M250.8 46V107" stroke="#1a1a1a" stroke-width="0.9"/><path d="M250.8 41L254.1 48H247.5Z" fill="#000"/>
<text transform="translate(255.6,148.98) rotate(-89.96) scale(1.049,1)" font-family='"DejaVu Sans", "Liberation Sans", sans-serif' font-size="9.5" fill="#141414" stroke="#141414" stroke-width="0.16">LAMP-1</text>
<text transform="translate(278.20,166.2) rotate(0.03) scale(1.070,1)" font-family='"DejaVu Sans", "Liberation Sans", sans-serif' font-size="9.5" fill="#141414" stroke="#141414" stroke-width="0.16">NK1.1</text>
<path d="M313 162.1H364.5" stroke="#1a1a1a" stroke-width="0.9"/><path d="M371.2 162.1L363.9 158.3V165.9Z" fill="#000"/>
<rect x="265.8" y="24.4" width="57.50" height="56.90" fill="#fff" stroke="#b2b2b2" stroke-width="0.7"/>
<g filter="url(#bl)"><ellipse cx="298.9" cy="70.4" rx="6.00" ry="8.30" fill="#b4b4b4" opacity="0.80"/><ellipse cx="298.9" cy="70.4" rx="5.16" ry="7.30" fill="#6e6e6e" opacity="0.90"/><ellipse cx="298.9" cy="70.4" rx="4.32" ry="6.31" fill="#2c2c2c" opacity="0.95"/><ellipse cx="298.9" cy="70.4" rx="3.36" ry="5.15" fill="#050505" opacity="1.00"/><ellipse cx="298.9" cy="70.4" rx="0.60" ry="1.83" fill="#dcdcdc" opacity="0.90"/></g>
<rect x="290" y="36.3" width="17.50" height="26.90" fill="none" stroke="#969696" stroke-width="0.6"/>
<text transform="translate(270.71,35.6) rotate(0.03) scale(1.024,1)" font-family='"DejaVu Sans", "Liberation Sans", sans-serif' font-size="7.0" fill="#262626" stroke="#262626" stroke-width="0.06">1.7</text>
<text x="263.50" y="30.71" font-family='"DejaVu Sans", "Liberation Sans", sans-serif' font-size="3.5" text-anchor="end" fill="#3c3c3c">10<tspan dy="-0.9" font-size="1.7">5</tspan></text>
<path d="M264.00 29.81h1.8" stroke="#8a8a8a" stroke-width="0.5"/>
<text x="263.50" y="43.51" font-family='"DejaVu Sans", "Liberation Sans", sans-serif' font-size="3.5" text-anchor="end" fill="#3c3c3c">10<tspan dy="-0.9" font-size="1.7">4</tspan></text>
<path d="M264.00 42.61h1.8" stroke="#8a8a8a" stroke-width="0.5"/>
<text x="263.50" y="56.31" font-family='"DejaVu Sans", "Liberation Sans", sans-serif' font-size="3.5" text-anchor="end" fill="#3c3c3c">10<tspan dy="-0.9" font-size="1.7">3</tspan></text>
<path d="M264.00 55.41h1.8" stroke="#8a8a8a" stroke-width="0.5"/>
<text x="263.50" y="70.25" font-family='"DejaVu Sans", "Liberation Sans", sans-serif' font-size="3.5" text-anchor="end" fill="#3c3c3c">10<tspan dy="-0.9" font-size="1.7">2</tspan></text>
<path d="M264.00 69.35h1.8" stroke="#8a8a8a" stroke-width="0.5"/>
<text x="263.50" y="76.51" font-family='"DejaVu Sans", "Liberation Sans", sans-serif' font-size="3.5" text-anchor="end" fill="#3c3c3c">0</text>
<path d="M264.00 75.61h1.8" stroke="#8a8a8a" stroke-width="0.5"/>
<text x="275.29" y="86.90" font-family='"DejaVu Sans", "Liberation Sans", sans-serif' font-size="3.5" text-anchor="middle" fill="#3c3c3c">0 10<tspan dy="-0.9" font-size="1.7">2</tspan></text>
<text x="292.82" y="86.90" font-family='"DejaVu Sans", "Liberation Sans", sans-serif' font-size="3.5" text-anchor="middle" fill="#3c3c3c">10<tspan dy="-0.9" font-size="1.7">3</tspan></text>
<text x="306.05" y="86.90" font-family='"DejaVu Sans", "Liberation Sans", sans-serif' font-size="3.5" text-anchor="middle" fill="#3c3c3c">10<tspan dy="-0.9" font-size="1.7">4</tspan></text>
<text x="317.55" y="86.90" font-family='"DejaVu Sans", "Liberation Sans", sans-serif' font-size="3.5" text-anchor="middle" fill="#3c3c3c">10<tspan dy="-0.9" font-size="1.7">5</tspan></text>
<path d="M267.80 82.40H321.30" stroke="#7a7a7a" stroke-width="0.9" stroke-dasharray="0.5 1.7"/>
<path d="M264.70 26.40V79.30" stroke="#7a7a7a" stroke-width="0.9" stroke-dasharray="0.5 1.7"/>
<rect x="332.8" y="24.4" width="57.50" height="56.90" fill="#fff" stroke="#b2b2b2" stroke-width="0.7"/>
<g filter="url(#bl)"><ellipse cx="365.4" cy="69.5" rx="5.30" ry="5.70" fill="#b4b4b4" opacity="0.80"/><ellipse cx="365.4" cy="69.5" rx="4.56" ry="5.02" fill="#6e6e6e" opacity="0.90"/><ellipse cx="365.4" cy="69.5" rx="3.82" ry="4.33" fill="#2c2c2c" opacity="0.95"/><ellipse cx="365.4" cy="69.5" rx="2.97" ry="3.53" fill="#050505" opacity="1.00"/><ellipse cx="365.4" cy="69.5" rx="0.53" ry="1.25" fill="#dcdcdc" opacity="0.90"/></g>
<rect x="357" y="36.3" width="18.00" height="27.00" fill="none" stroke="#969696" stroke-width="0.6"/>
<text transform="translate(337.48,35.6) rotate(0.03) scale(1.134,1)" font-family='"DejaVu Sans", "Liberation Sans", sans-serif' font-size="7.0" fill="#262626" stroke="#262626" stroke-width="0.06">0.6</text>
<text x="330.50" y="30.71" font-family='"DejaVu Sans", "Liberation Sans", sans-serif' font-size="3.5" text-anchor="end" fill="#3c3c3c">10<tspan dy="-0.9" font-size="1.7">5</tspan></text>
<path d="M331.00 29.81h1.8" stroke="#8a8a8a" stroke-width="0.5"/>
<text x="330.50" y="43.51" font-family='"DejaVu Sans", "Liberation Sans", sans-serif' font-size="3.5" text-anchor="end" fill="#3c3c3c">10<tspan dy="-0.9" font-size="1.7">4</tspan></text>
<path d="M331.00 42.61h1.8" stroke="#8a8a8a" stroke-width="0.5"/>
<text x="330.50" y="56.31" font-family='"DejaVu Sans", "Liberation Sans", sans-serif' font-size="3.5" text-anchor="end" fill="#3c3c3c">10<tspan dy="-0.9" font-size="1.7">3</tspan></text>
<path d="M331.00 55.41h1.8" stroke="#8a8a8a" stroke-width="0.5"/>
<text x="330.50" y="70.25" font-family='"DejaVu Sans", "Liberation Sans", sans-serif' font-size="3.5" text-anchor="end" fill="#3c3c3c">10<tspan dy="-0.9" font-size="1.7">2</tspan></text>
<path d="M331.00 69.35h1.8" stroke="#8a8a8a" stroke-width="0.5"/>
<text x="330.50" y="76.51" font-family='"DejaVu Sans", "Liberation Sans", sans-serif' font-size="3.5" text-anchor="end" fill="#3c3c3c">0</text>
<path d="M331.00 75.61h1.8" stroke="#8a8a8a" stroke-width="0.5"/>
<text x="342.29" y="86.90" font-family='"DejaVu Sans", "Liberation Sans", sans-serif' font-size="3.5" text-anchor="middle" fill="#3c3c3c">0 10<tspan dy="-0.9" font-size="1.7">2</tspan></text>
<text x="359.82" y="86.90" font-family='"DejaVu Sans", "Liberation Sans", sans-serif' font-size="3.5" text-anchor="middle" fill="#3c3c3c">10<tspan dy="-0.9" font-size="1.7">3</tspan></text>
<text x="373.05" y="86.90" font-family='"DejaVu Sans", "Liberation Sans", sans-serif' font-size="3.5" text-anchor="middle" fill="#3c3c3c">10<tspan dy="-0.9" font-size="1.7">4</tspan></text>
<text x="384.55" y="86.90" font-family='"DejaVu Sans", "Liberation Sans", sans-serif' font-size="3.5" text-anchor="middle" fill="#3c3c3c">10<tspan dy="-0.9" font-size="1.7">5</tspan></text>
<path d="M334.80 82.40H388.30" stroke="#7a7a7a" stroke-width="0.9" stroke-dasharray="0.5 1.7"/>
<path d="M331.70 26.40V79.30" stroke="#7a7a7a" stroke-width="0.9" stroke-dasharray="0.5 1.7"/>
<rect x="265.8" y="93.5" width="57.50" height="56.80" fill="#fff" stroke="#b2b2b2" stroke-width="0.7"/>
<g filter="url(#bl)" transform="rotate(4 299.9 131.6)"><ellipse cx="299.9" cy="131.6" rx="5.70" ry="12.80" fill="#c2c2c2" opacity="0.75"/><ellipse cx="299.9" cy="131.0" rx="4.90" ry="11.52" fill="#9a9a9a" opacity="0.80"/><ellipse cx="299.9" cy="130.35" rx="4.33" ry="10.45" fill="#5e5e5e" opacity="0.85"/><ellipse cx="299.9" cy="129.1" rx="3.76" ry="8.10" fill="#0a0a0a" opacity="1.00"/><ellipse cx="300.09999999999997" cy="129.6" rx="0.45" ry="4.45" fill="#d8d8d8" opacity="0.90"/></g>
<rect x="290.2" y="105" width="17.50" height="26.70" fill="none" stroke="#969696" stroke-width="0.6"/>
<text transform="translate(268.77,104.6) rotate(0.03) scale(1.080,1)" font-family='"DejaVu Sans", "Liberation Sans", sans-serif' font-size="7.0" fill="#262626" stroke="#262626" stroke-width="0.06">63.3</text>
<text x="263.50" y="99.80" font-family='"DejaVu Sans", "Liberation Sans", sans-serif' font-size="3.5" text-anchor="end" fill="#3c3c3c">10<tspan dy="-0.9" font-size="1.7">5</tspan></text>
<path d="M264.00 98.90h1.8" stroke="#8a8a8a" stroke-width="0.5"/>
<text x="263.50" y="112.58" font-family='"DejaVu Sans", "Liberation Sans", sans-serif' font-size="3.5" text-anchor="end" fill="#3c3c3c">10<tspan dy="-0.9" font-size="1.7">4</tspan></text>
<path d="M264.00 111.68h1.8" stroke="#8a8a8a" stroke-width="0.5"/>
<text x="263.50" y="125.36" font-family='"DejaVu Sans", "Liberation Sans", sans-serif' font-size="3.5" text-anchor="end" fill="#3c3c3c">10<tspan dy="-0.9" font-size="1.7">3</tspan></text>
<path d="M264.00 124.46h1.8" stroke="#8a8a8a" stroke-width="0.5"/>
<text x="263.50" y="139.27" font-family='"DejaVu Sans", "Liberation Sans", sans-serif' font-size="3.5" text-anchor="end" fill="#3c3c3c">10<tspan dy="-0.9" font-size="1.7">2</tspan></text>
<path d="M264.00 138.37h1.8" stroke="#8a8a8a" stroke-width="0.5"/>
<text x="263.50" y="145.52" font-family='"DejaVu Sans", "Liberation Sans", sans-serif' font-size="3.5" text-anchor="end" fill="#3c3c3c">0</text>
<path d="M264.00 144.62h1.8" stroke="#8a8a8a" stroke-width="0.5"/>
<text x="275.29" y="155.90" font-family='"DejaVu Sans", "Liberation Sans", sans-serif' font-size="3.5" text-anchor="middle" fill="#3c3c3c">0 10<tspan dy="-0.9" font-size="1.7">2</tspan></text>
<text x="292.82" y="155.90" font-family='"DejaVu Sans", "Liberation Sans", sans-serif' font-size="3.5" text-anchor="middle" fill="#3c3c3c">10<tspan dy="-0.9" font-size="1.7">3</tspan></text>
<text x="306.05" y="155.90" font-family='"DejaVu Sans", "Liberation Sans", sans-serif' font-size="3.5" text-anchor="middle" fill="#3c3c3c">10<tspan dy="-0.9" font-size="1.7">4</tspan></text>
<text x="317.55" y="155.90" font-family='"DejaVu Sans", "Liberation Sans", sans-serif' font-size="3.5" text-anchor="middle" fill="#3c3c3c">10<tspan dy="-0.9" font-size="1.7">5</tspan></text>
<path d="M267.80 151.40H321.30" stroke="#7a7a7a" stroke-width="0.9" stroke-dasharray="0.5 1.7"/>
<path d="M264.70 95.50V148.30" stroke="#7a7a7a" stroke-width="0.9" stroke-dasharray="0.5 1.7"/>
<rect x="332.8" y="93.5" width="57.50" height="56.80" fill="#fff" stroke="#b2b2b2" stroke-width="0.7"/>
<g filter="url(#bl)" transform="rotate(2 366.4 130.0)"><ellipse cx="366.4" cy="130.0" rx="5.50" ry="12.40" fill="#c2c2c2" opacity="0.75"/><ellipse cx="366.4" cy="129.4" rx="4.73" ry="11.16" fill="#9a9a9a" opacity="0.80"/><ellipse cx="366.4" cy="129.0" rx="4.18" ry="9.90" fill="#5e5e5e" opacity="0.85"/><ellipse cx="366.4" cy="128.0" rx="3.63" ry="7.40" fill="#0a0a0a" opacity="1.00"/><ellipse cx="366.59999999999997" cy="128.5" rx="0.45" ry="4.07" fill="#d8d8d8" opacity="0.90"/></g>
<rect x="357" y="105" width="18.00" height="26.90" fill="none" stroke="#969696" stroke-width="0.6"/>
<text transform="translate(335.16,104.6) rotate(0.03) scale(1.116,1)" font-family='"DejaVu Sans", "Liberation Sans", sans-serif' font-size="7.0" fill="#262626" stroke="#262626" stroke-width="0.06">72.9</text>
<text x="330.50" y="99.80" font-family='"DejaVu Sans", "Liberation Sans", sans-serif' font-size="3.5" text-anchor="end" fill="#3c3c3c">10<tspan dy="-0.9" font-size="1.7">5</tspan></text>
<path d="M331.00 98.90h1.8" stroke="#8a8a8a" stroke-width="0.5"/>
<text x="330.50" y="112.58" font-family='"DejaVu Sans", "Liberation Sans", sans-serif' font-size="3.5" text-anchor="end" fill="#3c3c3c">10<tspan dy="-0.9" font-size="1.7">4</tspan></text>
<path d="M331.00 111.68h1.8" stroke="#8a8a8a" stroke-width="0.5"/>
<text x="330.50" y="125.36" font-family='"DejaVu Sans", "Liberation Sans", sans-serif' font-size="3.5" text-anchor="end" fill="#3c3c3c">10<tspan dy="-0.9" font-size="1.7">3</tspan></text>
<path d="M331.00 124.46h1.8" stroke="#8a8a8a" stroke-width="0.5"/>
<text x="330.50" y="139.27" font-family='"DejaVu Sans", "Liberation Sans", sans-serif' font-size="3.5" text-anchor="end" fill="#3c3c3c">10<tspan dy="-0.9" font-size="1.7">2</tspan></text>
<path d="M331.00 138.37h1.8" stroke="#8a8a8a" stroke-width="0.5"/>
<text x="330.50" y="145.52" font-family='"DejaVu Sans", "Liberation Sans", sans-serif' font-size="3.5" text-anchor="end" fill="#3c3c3c">0</text>
<path d="M331.00 144.62h1.8" stroke="#8a8a8a" stroke-width="0.5"/>
<text x="342.29" y="155.90" font-family='"DejaVu Sans", "Liberation Sans", sans-serif' font-size="3.5" text-anchor="middle" fill="#3c3c3c">0 10<tspan dy="-0.9" font-size="1.7">2</tspan></text>
<text x="359.82" y="155.90" font-family='"DejaVu Sans", "Liberation Sans", sans-serif' font-size="3.5" text-anchor="middle" fill="#3c3c3c">10<tspan dy="-0.9" font-size="1.7">3</tspan></text>
<text x="373.05" y="155.90" font-family='"DejaVu Sans", "Liberation Sans", sans-serif' font-size="3.5" text-anchor="middle" fill="#3c3c3c">10<tspan dy="-0.9" font-size="1.7">4</tspan></text>
<text x="384.55" y="155.90" font-family='"DejaVu Sans", "Liberation Sans", sans-serif' font-size="3.5" text-anchor="middle" fill="#3c3c3c">10<tspan dy="-0.9" font-size="1.7">5</tspan></text>
<path d="M334.80 151.40H388.30" stroke="#7a7a7a" stroke-width="0.9" stroke-dasharray="0.5 1.7"/>
<path d="M331.70 95.50V148.30" stroke="#7a7a7a" stroke-width="0.9" stroke-dasharray="0.5 1.7"/>
<path d="M441.1 42V133.2" stroke="#a4a4a4" stroke-width="1.2" fill="none"/>
<path d="M440.5 132.7H516.2" stroke="#7c7c7c" stroke-width="1.1" fill="none"/>
<text transform="translate(433.35,134.70) rotate(0.03) scale(1.080,1)" font-family='"DejaVu Sans", "Liberation Sans", sans-serif' font-size="7.4" fill="#141414" stroke="#141414" stroke-width="0.16">0</text>
<text transform="translate(428.26,119.92) rotate(0.03) scale(1.080,1)" font-family='"DejaVu Sans", "Liberation Sans", sans-serif' font-size="7.4" fill="#141414" stroke="#141414" stroke-width="0.16">20</text>
<text transform="translate(428.26,105.14) rotate(0.03) scale(1.080,1)" font-family='"DejaVu Sans", "Liberation Sans", sans-serif' font-size="7.4" fill="#141414" stroke="#141414" stroke-width="0.16">40</text>
<text transform="translate(428.26,90.36) rotate(0.03) scale(1.080,1)" font-family='"DejaVu Sans", "Liberation Sans", sans-serif' font-size="7.4" fill="#141414" stroke="#141414" stroke-width="0.16">60</text>
<text transform="translate(428.26,75.58) rotate(0.03) scale(1.080,1)" font-family='"DejaVu Sans", "Liberation Sans", sans-serif' font-size="7.4" fill="#141414" stroke="#141414" stroke-width="0.16">80</text>
<text transform="translate(423.18,60.80) rotate(0.03) scale(1.080,1)" font-family='"DejaVu Sans", "Liberation Sans", sans-serif' font-size="7.4" fill="#141414" stroke="#141414" stroke-width="0.16">100</text>
<text transform="translate(423.18,46.02) rotate(0.03) scale(1.080,1)" font-family='"DejaVu Sans", "Liberation Sans", sans-serif' font-size="7.4" fill="#141414" stroke="#141414" stroke-width="0.16">120</text>
<rect x="448" y="46" width="6.2" height="6.2" fill="#000"/>
<rect x="448.4" y="58.4" width="5.4" height="5.4" fill="#a0a0a0" stroke="#3c3c3c" stroke-width="0.8"/>
<text transform="translate(455.85,52.2) rotate(0.03) scale(1.025,1)" font-family='"DejaVu Sans", "Liberation Sans", sans-serif' font-size="7.4" fill="#141414" stroke="#141414" stroke-width="0.16">WT</text>
<text transform="translate(455.62,64.2) rotate(0.03) scale(1.167,1)" font-family='"DejaVu Sans", "Liberation Sans", sans-serif' font-size="7.4" fill="#141414" stroke="#141414" stroke-width="0.16">CD45-/-</text>
<rect x="449" y="130.0" width="11.00" height="2.70" fill="#000"/>
<path d="M454.50 129.2V130.0M453.30 129.2h2.4" stroke="#4d4d4d" stroke-width="0.65" fill="none"/>
<rect x="460.30" y="131.50" width="10.20" height="1.20" fill="#9a9a9a" stroke="#6a6a6a" stroke-width="0.6"/>
<path d="M465.40 130.6V131.8M464.20 130.6h2.4M464.20 131.8h2.4" stroke="#4d4d4d" stroke-width="0.65" fill="none"/>
<rect x="487" y="77.3" width="10.40" height="55.40" fill="#000"/>
<path d="M492.20 69.6V77.3M490.70 69.6h3.0" stroke="#4d4d4d" stroke-width="0.65" fill="none"/>
<rect x="497.70" y="72.30" width="10.20" height="60.40" fill="#9a9a9a" stroke="#6a6a6a" stroke-width="0.6"/>
<path d="M502.80 66.2V78.4M501.30 66.2h3.0M501.30 78.4h3.0" stroke="#4d4d4d" stroke-width="0.65" fill="none"/>
<text transform="translate(455.40,117) rotate(0.03) scale(1.179,1)" font-family='"DejaVu Sans", "Liberation Sans", sans-serif' font-size="6.9" fill="#141414" stroke="#141414" stroke-width="0.16">NS</text>
<text transform="translate(491.50,58) rotate(0.03) scale(1.179,1)" font-family='"DejaVu Sans", "Liberation Sans", sans-serif' font-size="6.9" fill="#141414" stroke="#141414" stroke-width="0.16">NS</text>
<text transform="translate(447.20,144.2) rotate(0.03) scale(1.095,1)" font-family='"DejaVu Sans", "Liberation Sans", sans-serif' font-size="7.4" fill="#141414" stroke="#141414" stroke-width="0.16">DMSO</text>
<text transform="translate(485.44,144.2) rotate(0.03) scale(1.044,1)" font-family='"DejaVu Sans", "Liberation Sans", sans-serif' font-size="7.4" fill="#141414" stroke="#141414" stroke-width="0.16">PMA+</text>
<text transform="translate(486.55,154.2) rotate(0.03) scale(1.170,1)" font-family='"DejaVu Sans", "Liberation Sans", sans-serif' font-size="7.4" fill="#141414" stroke="#141414" stroke-width="0.16">Iono.</text>
<text transform="translate(421.3,116.56) rotate(-89.96) scale(1.049,1)" font-family='"DejaVu Sans", "Liberation Sans", sans-serif' font-size="9.6" fill="#141414" stroke="#141414" stroke-width="0.16">% Lamp-1+</text>
</svg></body></html>
